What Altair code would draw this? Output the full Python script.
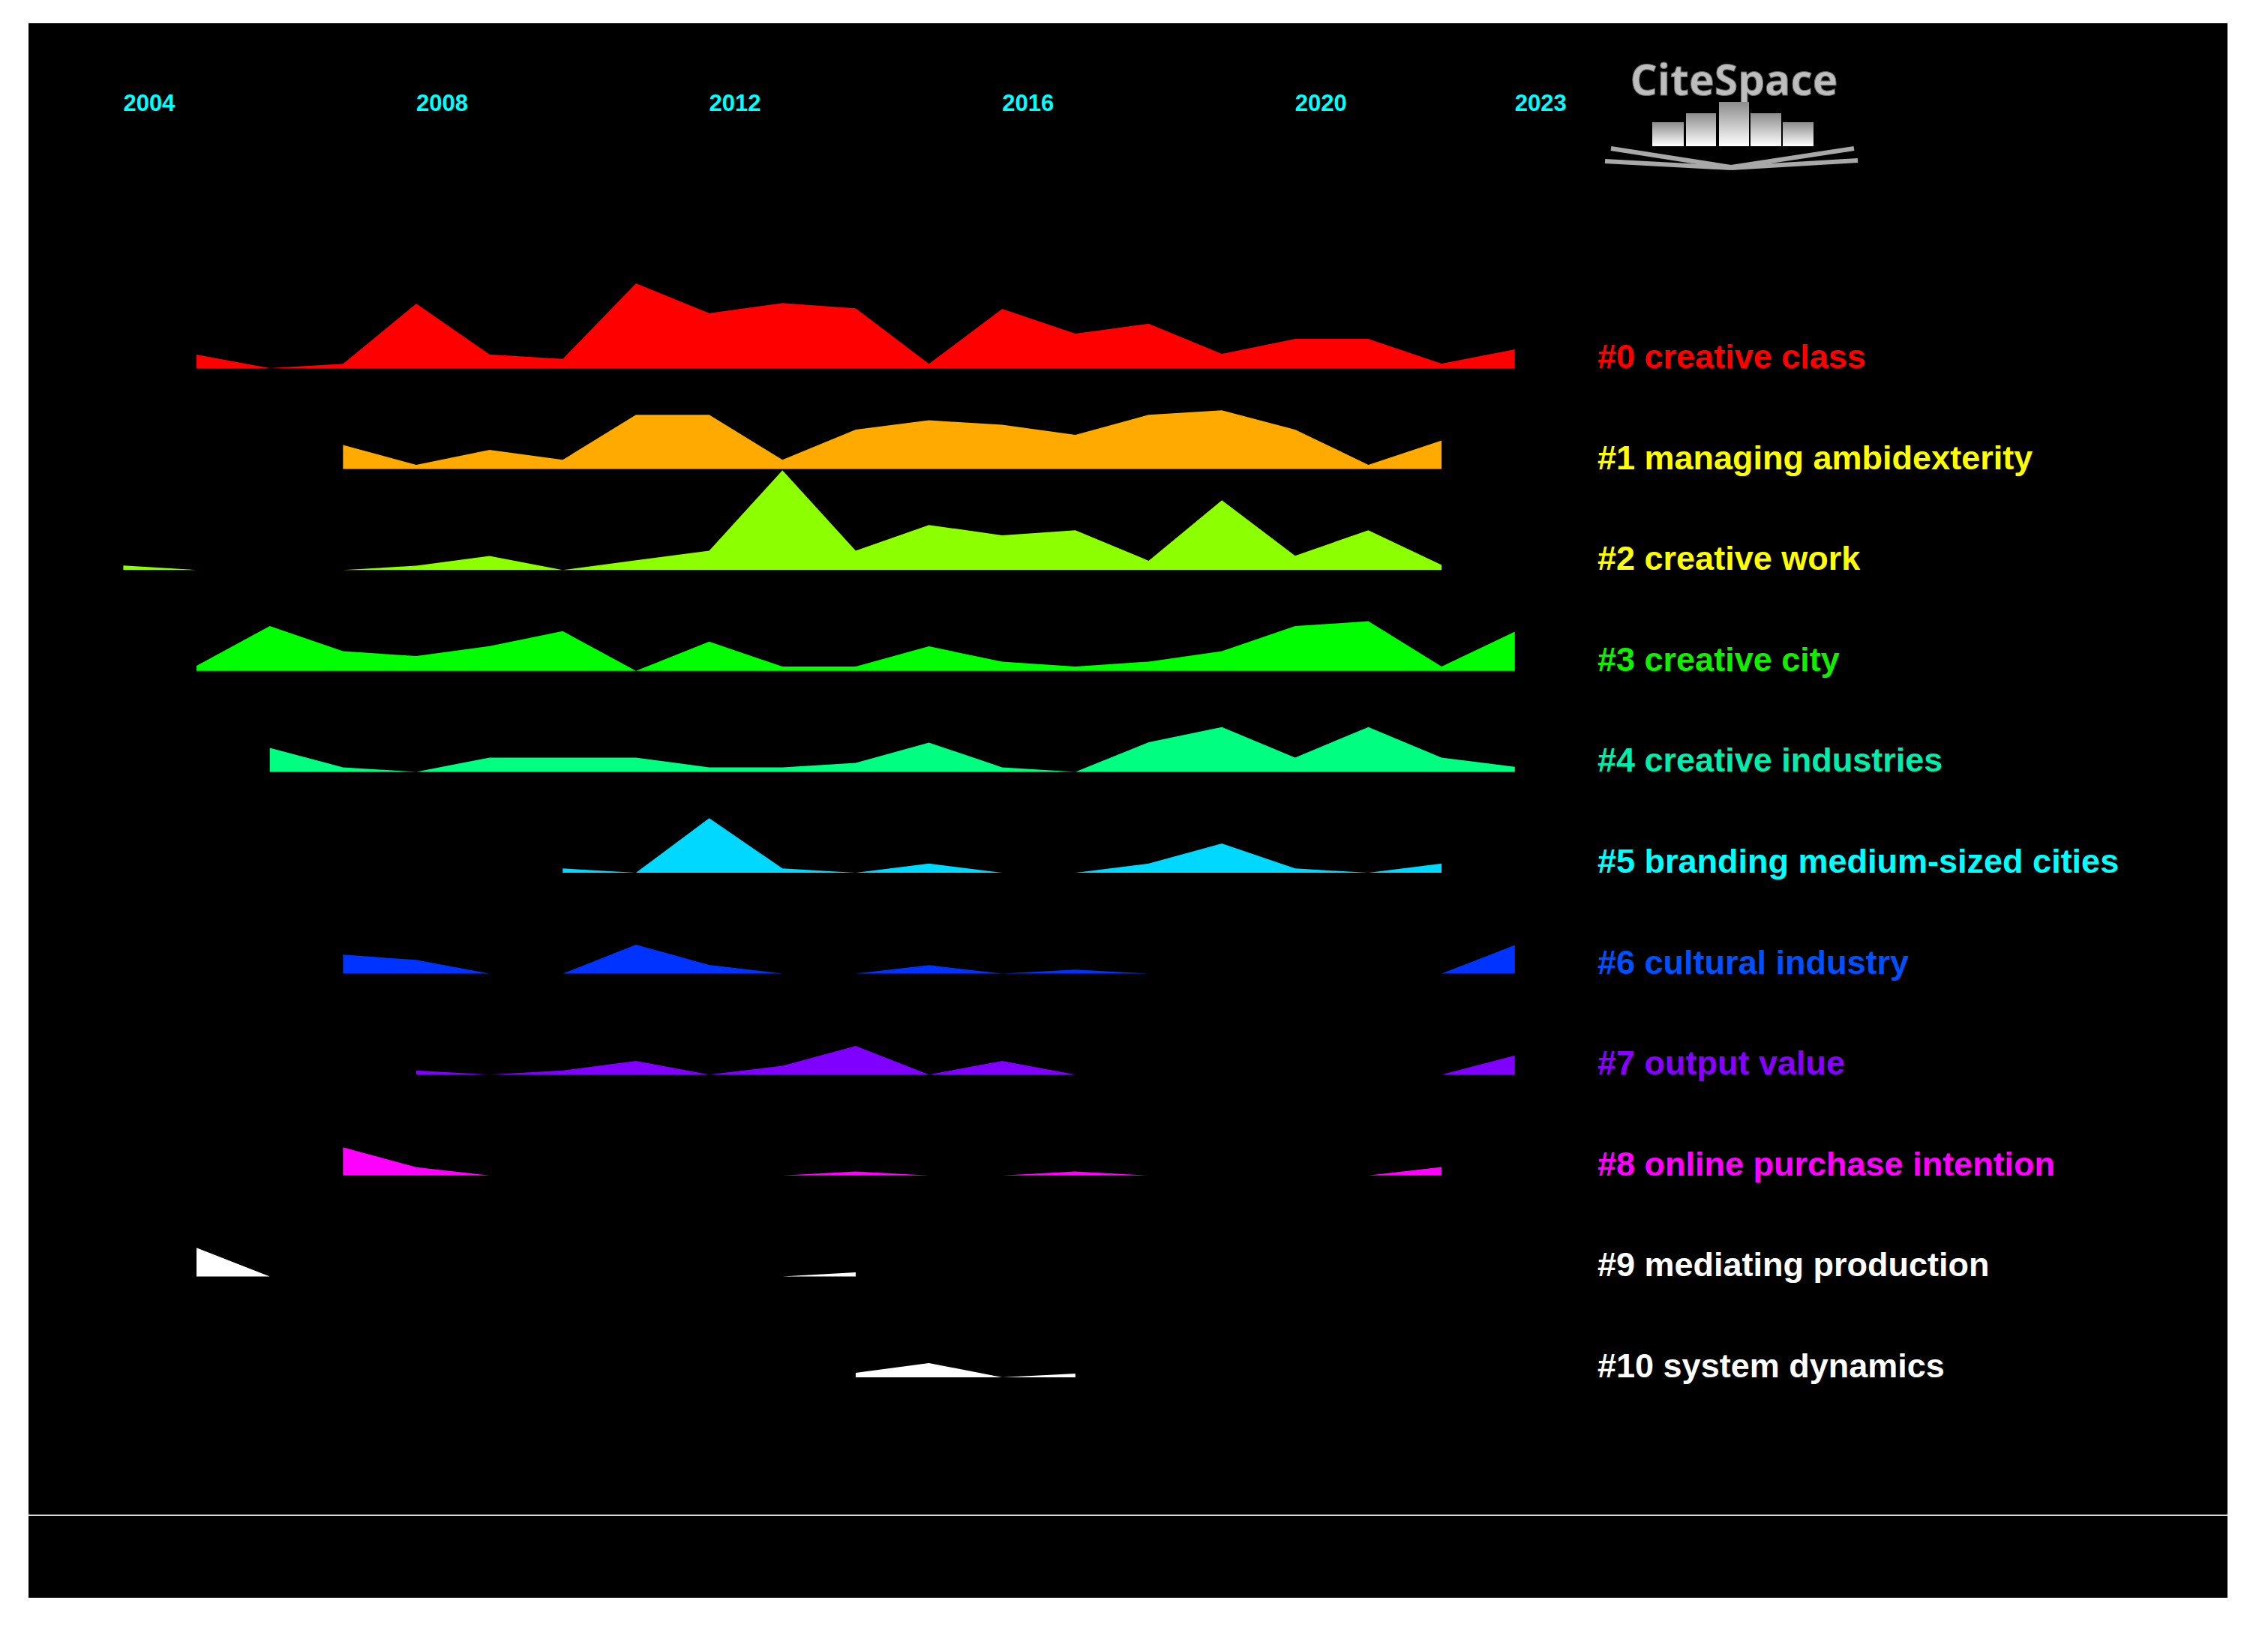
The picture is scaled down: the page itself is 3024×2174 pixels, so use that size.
import altair as alt
import pandas as pd

# ---------------- data ----------------
tick_years = [2004, 2008, 2012, 2016, 2020, 2023]

cluster_labels = [
    "#0 creative class",
    "#1 managing ambidexterity",
    "#2 creative work",
    "#3 creative city",
    "#4 creative industries",
    "#5 branding medium-sized cities",
    "#6 cultural industry",
    "#7 output value",
    "#8 online purchase intention",
    "#9 mediating production",
    "#10 system dynamics",
]
area_colors = ["#FF0000", "#FFAA00", "#8CFF00", "#00FF00", "#00FF80", "#00D8FF",
               "#0033FF", "#7F00FF", "#FF00FF", "#FFFFFF", "#FFFFFF"]
label_colors = ["#FF0000", "#FFFF00", "#FFFF00", "#11EE00", "#00EEAA", "#00FFFF",
                "#0050FF", "#8800FF", "#FF00FF", "#FFFFFF", "#FFFFFF"]
start_years = [2005, 2007, 2004, 2005, 2006, 2010, 2007, 2008, 2007, 2005, 2014]

c0 = [18, 0, 5.7, 86, 18.3, 12.3, 113, 73.3, 86.7, 79.7, 5.7, 79, 46, 59.3, 19, 39, 39, 6, 25]
c1 = [32, 5.7, 25.7, 12.3, 72.3, 72.3, 12.3, 52.7, 65, 59, 45.7, 72.3, 78.3, 52.7, 5.7, 38]
c2 = [6, 0, 0, 0, 5.7, 18.7, 0, 13, 25.7, 133, 25.7, 60, 46.3, 53, 12.3, 93, 19, 53, 6.7]
c3 = [6.7, 59.7, 26.3, 19.7, 33, 53, 0, 39, 5.7, 5.7, 32.7, 12.3, 5.7, 12.3, 26.3, 59.7, 66.3, 5.7, 52.3]
c4 = [32, 6, 0, 19, 19, 19, 6, 6, 12, 39, 6, 0, 39.3, 59.7, 19, 59.7, 19, 6.7]
c5 = [5.7, 0, 72.7, 5.7, 0, 12.3, 0, 0, 12.3, 39, 5.7, 0, 12.3]
c6 = [25.3, 18.3, 0, 0, 38.7, 11.7, 0, 0, 11.3, 0, 5.3, 0, 0, 0, 0, 0, 38]
c7 = [5.4, 0, 5.4, 18.2, 0, 11.8, 38.2, 0, 18.2, 0, 0, 0, 0, 0, 0, 25.4]
c8 = [37.5, 11, 0, 0, 0, 0, 0, 5.4, 0, 0, 5.4, 0, 0, 0, 0, 11.4]
c9 = [38.2, 0, 0, 0, 0, 0, 0, 0, 0, 5.4]
c10 = [6, 19, 0, 5]
series = [c0, c1, c2, c3, c4, c5, c6, c7, c8, c9, c10]

# ---------------- layout ----------------
VIEW_W, VIEW_H = 2932, 2100
PX_PER_YEAR = 97.65
X_2004 = 126.4
x_dom = [2004 - X_2004 / PX_PER_YEAR, 2004 + (VIEW_W - X_2004) / PX_PER_YEAR]
FIRST_BASE = 460.0
ROW_STEP = 134.6
LABEL_YEAR = 2004 + (2092 - X_2004) / PX_PER_YEAR

bases = [FIRST_BASE + i * ROW_STEP for i in range(len(cluster_labels))]

rows = []
for lab, s0, vals, base in zip(cluster_labels, start_years, series, bases):
    for k, v in enumerate(vals):
        rows.append({"cluster": lab, "year": s0 + k, "value": v, "base": base, "top": base - v})
df = pd.DataFrame(rows)

lab_df = pd.DataFrame({"label": cluster_labels, "lx": [LABEL_YEAR] * len(cluster_labels),
                       "base": bases, "lc": label_colors})
tick_df = pd.DataFrame({"year": tick_years, "txt": [str(y) for y in tick_years]})
one = pd.DataFrame({"a": [0]})

xs = alt.Scale(domain=x_dom, nice=False, zero=False)
ys = alt.Scale(domain=[0, VIEW_H], reverse=True, nice=False, zero=False)

areas = alt.Chart(df).mark_area(interpolate="linear", opacity=1).encode(
    x=alt.X("year:Q", scale=xs, axis=None),
    y=alt.Y("top:Q", scale=ys, axis=None),
    y2="base:Q",
    color=alt.Color("cluster:N", scale=alt.Scale(domain=cluster_labels, range=area_colors), legend=None),
    detail="cluster:N",
)

labels = alt.Chart(lab_df).mark_text(
    align="left", baseline="alphabetic", font="Liberation Sans", fontWeight="bold", fontSize=45
).encode(
    x=alt.X("lx:Q", scale=xs, axis=None),
    y=alt.Y("base:Q", scale=ys, axis=None),
    text="label:N",
    color=alt.Color("lc:N", scale=None),
)

ticks = alt.Chart(tick_df).mark_text(
    align="left", baseline="alphabetic", font="Liberation Sans", fontWeight="bold",
    fontSize=31, color="#00FFFF"
).encode(
    x=alt.X("year:Q", scale=xs, axis=None),
    y=alt.value(117),
    text="txt:N",
)

sep = alt.Chart(one).mark_rule(color="#D8D8D8", strokeWidth=2).encode(
    x=alt.value(0), x2=alt.value(VIEW_W), y=alt.value(1990)
)

# ---------------- CiteSpace logo (decoration) ----------------
logo_text = alt.Chart(one).mark_text(
    font="Open Sans", fontWeight="bold", fontSize=57, color="#BDBDBD",
    stroke="#6A6A6A", strokeWidth=1, align="center", baseline="alphabetic"
).encode(x=alt.value(2274), y=alt.value(96), text=alt.value("CiteSpace"))

grad = alt.LinearGradient(
    gradient="linear", x1=0, x2=0, y1=0, y2=1,
    stops=[alt.GradientStop(color="#8C8C8C", offset=0), alt.GradientStop(color="#FFFFFF", offset=1)],
)
bar_specs = [(2165, 2207, 132), (2210, 2250, 120), (2254, 2294, 105), (2296, 2337, 120), (2339, 2380, 132)]
logo_bars = [
    alt.Chart(one).mark_rect(color=grad).encode(
        x=alt.value(a), x2=alt.value(b), y=alt.value(t), y2=alt.value(164)
    )
    for a, b, t in bar_specs
]
seg_specs = [((2110, 167), (2270, 192)), ((2270, 192), (2434, 167)),
             ((2102, 184), (2270, 193)), ((2270, 193), (2439, 183))]
logo_lines = [
    alt.Chart(one).mark_rule(color="#A8A8A8", strokeWidth=6).encode(
        x=alt.value(p[0]), y=alt.value(p[1]), x2=alt.value(q[0]), y2=alt.value(q[1])
    )
    for p, q in seg_specs
]

chart = alt.layer(areas, labels, ticks, sep, logo_text, *logo_bars, *logo_lines).properties(
    width=VIEW_W, height=VIEW_H,
    padding={"left": 29, "top": 23, "right": 40, "bottom": 30},
    background="white",
).configure_view(fill="black", stroke=None)

chart.save("out.html", embed_options={"renderer": "svg", "actions": False})
